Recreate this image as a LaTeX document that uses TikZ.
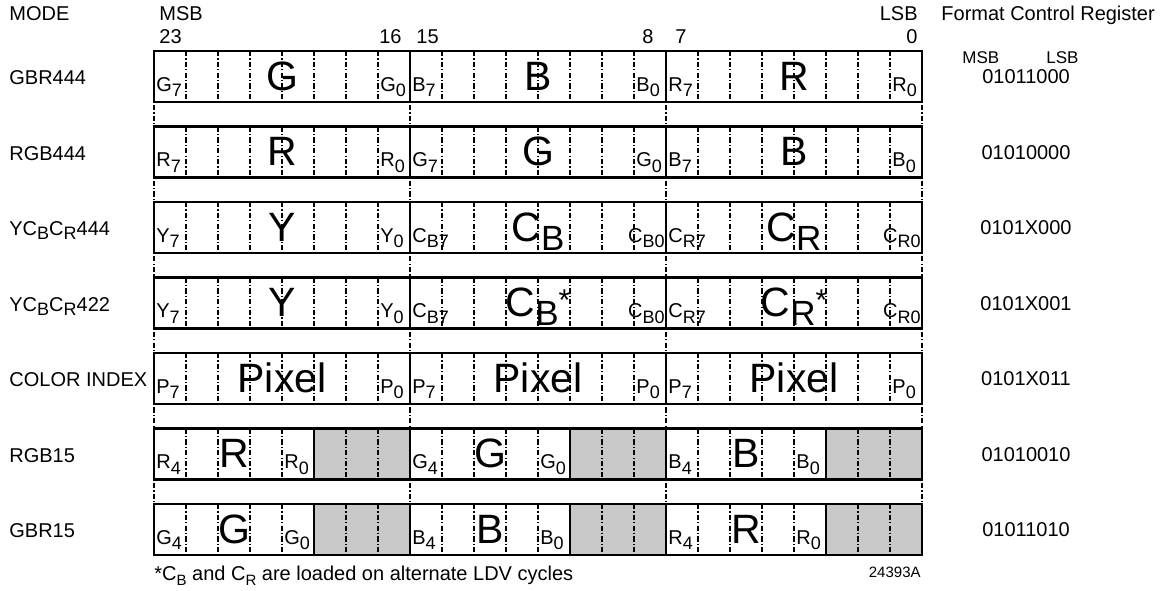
\documentclass[tikz,border=0pt]{standalone}
\usepackage{fontspec}
\setmainfont{Liberation Sans}
\usetikzlibrary{positioning,calc}

\definecolor{padgray}{RGB}{200,200,200}
\newcommand{\lsub}[1]{\raisebox{-2.8pt}{\fontsize{9}{10}\selectfont #1}}
\newcommand{\msub}[1]{\raisebox{-2pt}{\fontsize{9}{10}\selectfont #1}}
\newcommand{\bigsub}[1]{\raisebox{-4.5pt}{\fontsize{17.5}{18}\selectfont #1}}
\newcommand{\ldvstar}{\raisebox{3pt}{\fontsize{15}{15}\selectfont *}}

\begin{document}
\begin{tikzpicture}[x=0.5pt, y=-0.5pt,
  txt/.style={inner sep=0pt, font=\fontsize{10}{12}\selectfont},
  small/.style={inner sep=0pt, font=\fontsize{7.5}{9}\selectfont},
  cell/.style={inner sep=0pt, anchor=base west, font=\fontsize{10}{11}\selectfont},
  cellr/.style={cell, anchor=base east},
  field/.style={inner sep=0pt, anchor=base, font=\fontsize{20.5}{22}\selectfont},
  regline/.style={line width=1.3pt},
  bitsep/.style={line width=0.55pt, dash pattern=on 2.6pt off 1.1pt on 0.6pt off 1.1pt},
  pad/.style={fill=padgray}
]
\useasboundingbox (0,0) rectangle (1160,590);

% headings
\node[txt, anchor=base west] (mode) at (9,20) {MODE};
\node[txt, anchor=base west] (msb) at (159,20) {MSB};
\node[txt, anchor=base east] (lsb) at (918,20) {LSB};
\node[txt, anchor=base west] (fcr) at (941,20) {Format Control Register};
\node[txt, anchor=base west] (b23) at (159,43) {23};
\node[txt, anchor=base east] (b16) at (402,43) {16};
\node[txt, anchor=base west] (b15) at (416,43) {15};
\node[txt, anchor=base east] (b8) at (654,43) {8};
\node[txt, anchor=base west] (b7) at (675,43) {7};
\node[txt, anchor=base east] (b0) at (918,43) {0};
\node[small, font=\fontsize{8.5}{10}\selectfont, anchor=base west] (fmsb) at (962,63) {MSB};
\node[small, font=\fontsize{8.5}{10}\selectfont, anchor=base west] (flsb) at (1046,63) {LSB};

% byte boundaries run down through the gaps
\foreach \bx in {154,410,666,922}
  \draw[bitsep] (\bx,51) -- (\bx,555);

% 24-bit rows
\foreach \y in {51,126.5,202,277.5,353} {
  \fill[white] (154,\y) rectangle (922,\y+51);
  \foreach \k in {1,...,7,9,10,...,15,17,18,...,23}
    \draw[bitsep] (154+32*\k,\y) -- ++(0,51);
  \draw[regline] (154,\y) rectangle (922,\y+51);
  \foreach \bx in {410,666} \draw[regline] (\bx,\y) -- ++(0,51);
}

% 15-bit rows, padded bytes
\foreach \y in {428.5,504} {
  \fill[white] (154,\y) rectangle (922,\y+51);
  \foreach \b in {0,1,2} {
    \fill[pad] (154+256*\b+160,\y) rectangle (154+256*\b+256,\y+51);
    \foreach \k in {1,2,3,4,6,7}
      \draw[bitsep] (154+256*\b+32*\k,\y) -- ++(0,51);
    \draw[regline] (154+256*\b+160,\y) -- ++(0,51);
  }
  \draw[regline] (154,\y) rectangle (922,\y+51);
  \foreach \bx in {410,666} \draw[regline] (\bx,\y) -- ++(0,51);
}

% mode names and register values
\foreach \y/\m/\v [count=\r] in {51/GBR444/01011000, 126.5/RGB444/01010000,
    202/{YC\msub{B}C\msub{R}444}/0101X000, 277.5/{YC\msub{B}C\msub{R}422}/0101X001,
    353/COLOR INDEX/0101X011, 428.5/RGB15/01010010, 504/GBR15/01011010} {
  \node[txt, anchor=base west] (mode\r) at (9,\y+33.5) {\m};
  \node[txt, anchor=base] (fmt\r) at (1026,\y+32.5) {\v};
}

% GBR444 / RGB444
\foreach \bx/\f in {154/G,410/B,666/R} {
  \node[field] (gbr-\bx) at (\bx+128,90) {\f};
  \node[cell] (gbr-hi\bx) at (\bx+2,91) {\f\lsub{7}};
  \node[cell] (gbr-lo\bx) at (\bx+226,91) {\f\lsub{0}};
}
\foreach \bx/\f in {154/R,410/G,666/B} {
  \node[field] (rgb-\bx) at (\bx+128,165.5) {\f};
  \node[cell] (rgb-hi\bx) at (\bx+2,166.5) {\f\lsub{7}};
  \node[cell] (rgb-lo\bx) at (\bx+226,166.5) {\f\lsub{0}};
}

% YCbCr444 / YCbCr422
\node[field] (y444) at (282,241) {Y};
\node[cell] (y444hi) at (156,242) {Y\lsub{7}};
\node[cell] (y444lo) at (380,242) {Y\lsub{0}};
\foreach \bx/\c in {410/B,666/R} {
  \node[field] (c444-\bx) at (\bx+128,241) {C\bigsub{\c}};
  \node[cell] (c444hi\bx) at (\bx+2,242) {C\lsub{\c7}};
  \node[cellr] (c444lo\bx) at (\bx+255,242) {C\lsub{\c0}};
}
\node[field] (y422) at (282,316.5) {Y};
\node[cell] (y422hi) at (156,317.5) {Y\lsub{7}};
\node[cell] (y422lo) at (380,317.5) {Y\lsub{0}};
\foreach \bx/\c in {410/B,666/R} {
  \node[field] (c422-\bx) at (\bx+128,316.5) {C\bigsub{\c}\ldvstar};
  \node[cell] (c422hi\bx) at (\bx+2,317.5) {C\lsub{\c7}};
  \node[cellr] (c422lo\bx) at (\bx+255,317.5) {C\lsub{\c0}};
}

% COLOR INDEX
\foreach \bx in {154,410,666} {
  \node[field] (pix-\bx) at (\bx+128,392) {Pixel};
  \node[cell] (pix-hi\bx) at (\bx+2,393) {P\lsub{7}};
  \node[cell] (pix-lo\bx) at (\bx+226,393) {P\lsub{0}};
}

% RGB15 / GBR15
\foreach \bx/\f in {154/R,410/G,666/B} {
  \node[field] (rgb15-\bx) at (\bx+80,467.5) {\f};
  \node[cell] (rgb15-hi\bx) at (\bx+2,468.5) {\f\lsub{4}};
  \node[cell] (rgb15-lo\bx) at (\bx+130,468.5) {\f\lsub{0}};
}
\foreach \bx/\f in {154/G,410/B,666/R} {
  \node[field] (gbr15-\bx) at (\bx+80,543) {\f};
  \node[cell] (gbr15-hi\bx) at (\bx+2,544) {\f\lsub{4}};
  \node[cell] (gbr15-lo\bx) at (\bx+130,544) {\f\lsub{0}};
}

% footnote
\node[txt, anchor=base west] (note) at (154,580) {*C\raisebox{-2.5pt}{\fontsize{7.5}{8}\selectfont B} and C\raisebox{-2.5pt}{\fontsize{7.5}{8}\selectfont R} are loaded on alternate LDV cycles};
\node[small, anchor=base east] (figid) at (921,577) {24393A};
\end{tikzpicture}
\end{document}
